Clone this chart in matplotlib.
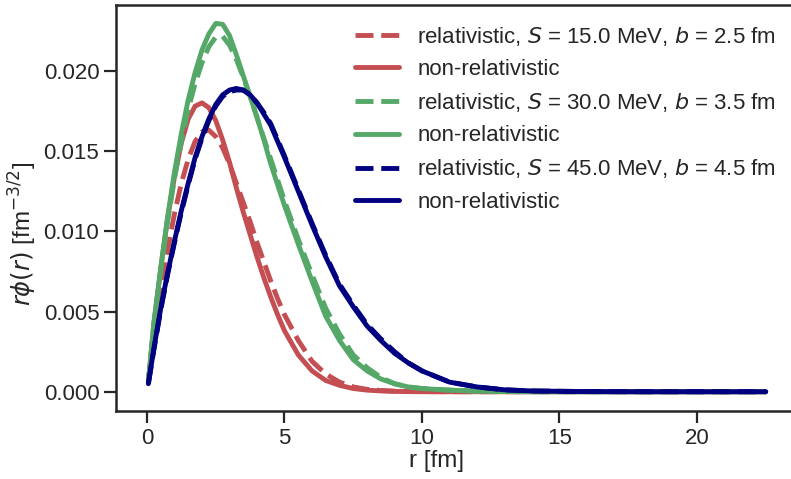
import matplotlib
matplotlib.use("Agg")
import matplotlib.pyplot as plt
import seaborn as sns

# radial grid [fm] and wave functions
r = [0.05, 0.25, 0.5, 0.75, 1.0, 1.25, 1.5, 1.75, 2.0, 2.25, 2.5, 2.75, 3.0, 3.25,
     3.5, 3.75, 4.0, 4.25, 4.5, 4.75, 5.0, 5.5, 6.0, 6.5, 7.0, 7.5, 8.0, 8.5, 9.0,
     9.5, 10.0, 11.0, 12.0, 13.0, 14.0, 16.0, 18.0, 20.0, 22.5]

red_rel = [0.0006, 0.0037, 0.0064, 0.0088, 0.0111, 0.0130, 0.0145, 0.0156, 0.0162,
           0.0163, 0.0159, 0.0152, 0.0142, 0.0130, 0.0118, 0.0106, 0.0093, 0.0081,
           0.0069, 0.0058, 0.0048, 0.0032, 0.0019, 0.0011, 0.0006, 0.0003, 0.00015,
           0.00008, 0.00004, 0.00002, 0.00001, 0, 0, 0, 0, 0, 0, 0, 0]
red_nonrel = [0.0006, 0.0042, 0.0077, 0.0108, 0.0134, 0.0155, 0.0170, 0.0178, 0.0180,
              0.0177, 0.0169, 0.0157, 0.0143, 0.0127, 0.0112, 0.0098, 0.0084, 0.0071,
              0.0059, 0.0048, 0.0038, 0.0023, 0.0013, 0.0007, 0.0004, 0.0002, 0.0001,
              0.00005, 0.00002, 0.00001, 0, 0, 0, 0, 0, 0, 0, 0, 0]
green_rel = [0.0006, 0.0042, 0.0075, 0.0106, 0.0133, 0.0156, 0.0176, 0.0192, 0.0205,
             0.0215, 0.0221, 0.02215, 0.0216, 0.0207, 0.0196, 0.0184, 0.0171, 0.0158,
             0.0145, 0.0132, 0.0119, 0.0095, 0.0073, 0.0052, 0.0036, 0.0023, 0.0015,
             0.0009, 0.0005, 0.0003, 0.0002, 0.0001, 0.00004, 0.00001, 0, 0, 0, 0, 0]
green_nonrel = [0.0006, 0.0043, 0.0077, 0.0109, 0.0137, 0.0161, 0.0182, 0.0199, 0.0213,
                0.0223, 0.02295, 0.0229, 0.0222, 0.0210, 0.0197, 0.0184, 0.0171, 0.0157,
                0.0142, 0.0129, 0.0116, 0.0092, 0.0069, 0.0047, 0.0032, 0.0020, 0.0013,
                0.0008, 0.0005, 0.0003, 0.0002, 0.0001, 0.00004, 0.00001, 0, 0, 0, 0, 0]
navy_rel = [0.0005, 0.0026, 0.0051, 0.0073, 0.0093, 0.0112, 0.0129, 0.0145, 0.0158,
            0.0169, 0.0178, 0.0184, 0.0187, 0.0188, 0.0188, 0.0185, 0.0180, 0.0174,
            0.0167, 0.0157, 0.0147, 0.0126, 0.0105, 0.0085, 0.0067, 0.0054, 0.0042,
            0.0033, 0.0025, 0.0018, 0.0013, 0.0006, 0.0003, 0.00012, 0.00005, 0.00001,
            0, 0, 0]
navy_nonrel = [0.0005, 0.0027, 0.0052, 0.0074, 0.0094, 0.0113, 0.0130, 0.0146, 0.0159,
               0.0170, 0.0179, 0.0185, 0.0188, 0.0189, 0.0188, 0.0185, 0.0180, 0.0173,
               0.0166, 0.0156, 0.0146, 0.0125, 0.0104, 0.0084, 0.0066, 0.0053, 0.0041,
               0.0032, 0.0024, 0.0018, 0.0013, 0.0006, 0.0003, 0.00012, 0.00005, 0.00001,
               0, 0, 0]

S_vals = [15.0, 30.0, 45.0]
b_vals = [2.5, 3.5, 4.5]

sns.set_theme(style="ticks", context="talk")
plt.rcParams['font.family'] = ['Liberation Sans', 'DejaVu Sans']

fig = plt.figure(figsize=(7.91, 4.79), dpi=100)
ax = fig.add_axes([116 / 791, 68 / 479, 680 / 791, 406 / 479])

curves = [(red_rel, red_nonrel, "#C44E52"),
          (green_rel, green_nonrel, "#55A868"),
          (navy_rel, navy_nonrel, "navy")]

for (rel, nonrel, col), S, b in zip(curves, S_vals, b_vals):
    ax.plot(r, rel, ls="--", color=col, lw=3.5,
            label=f"relativistic, $S$ = {S:.1f} MeV, $b$ = {b:.1f} fm")
    ax.plot(r, nonrel, ls="-", color=col, lw=3.5, label="non-relativistic")

ax.set_xlim(-1.127, 23.6)
ax.set_ylim(-0.0012, 0.0241)
ax.set_xticks([0, 5, 10, 15, 20])
ax.set_yticks([0.0, 0.005, 0.010, 0.015, 0.020])
ax.yaxis.set_major_formatter(matplotlib.ticker.FormatStrFormatter('%.3f'))

ax.tick_params(labelsize=16, length=8.5, width=1.6)
for sp in ax.spines.values():
    sp.set_linewidth(1.8)

ax.set_xlabel("r [fm]", fontsize=17.5)
ax.set_ylabel(r"$r\phi(r)$ [fm$^{-3/2}$]", fontsize=17.5)
ax.xaxis.set_label_coords(0.472, -0.095)
ax.yaxis.set_label_coords(-0.113, 0.436)

ax.legend(loc="upper right", fontsize=16, frameon=False)

fig.savefig("out.png", dpi=100)
